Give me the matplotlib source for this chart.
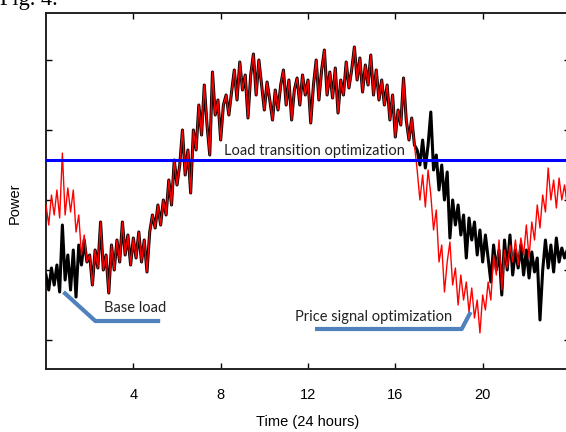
#!/usr/bin/env python3
"""Power over 24 hours: base load vs. price-signal and load-transition optimization."""

import numpy as np
import matplotlib
matplotlib.use("Agg")
import matplotlib.pyplot as plt

# time grid, one sample every 7.5 minutes
hours = np.arange(0, 24.001, 0.125)

# 0:00 - 1:52, where the two curves differ
base_morning = [9.5, 8.0, 10.2, 8.5, 10.5, 7.8, 14.5, 9.0,
                11.5, 8.0, 12.0, 7.3, 12.5, 10.5, 13.0, 10.8]
price_morning = [16.5, 14.5, 17.5, 15.5, 18.0, 15.2, 21.7, 15.5,
                 18.2, 15.8, 18.0, 13.8, 15.5, 11.5, 13.5, 10.8]

# 2:00 - 16:52, both curves identical
daytime = [11.5, 8.5, 12.0, 10.2, 14.8, 10.0, 11.5, 7.7,
           12.5, 10.0, 13.0, 10.8, 14.8, 11.5, 13.5, 10.5,
           13.2, 11.2, 13.8, 10.8, 13.0, 9.8, 13.8, 15.5,
           14.2, 16.5, 14.5, 17.0, 15.5, 19.0, 16.5, 21.0,
           18.5, 20.5, 24.0, 19.5, 22.0, 17.7, 24.0, 22.0,
           26.5, 23.5, 28.5, 24.5, 21.5, 29.8, 25.5, 27.0,
           23.0, 26.5, 27.5, 25.5, 27.8, 30.0, 27.0, 30.8,
           28.0, 29.5, 25.2, 29.5, 31.6, 27.5, 31.0, 28.5,
           26.0, 28.8, 27.0, 25.0, 28.0, 26.0, 28.5, 30.0,
           26.5, 29.0, 25.0, 28.0, 29.2, 26.5, 29.5, 27.5,
           29.0, 24.7, 28.5, 31.0, 27.0, 30.0, 32.0, 27.5,
           29.8, 27.2, 30.2, 25.7, 29.0, 27.5, 30.8, 28.2,
           30.0, 32.3, 29.0, 31.2, 27.8, 30.5, 28.5, 31.5,
           27.5, 30.0, 27.0, 29.0, 26.5, 28.5, 25.0, 27.5,
           23.3, 26.0, 24.5, 29.2, 25.0, 23.0, 25.2, 22.5]

# 17:00 - 24:00
base_evening = [22.0, 20.5, 23.0, 20.2, 22.5, 25.8, 20.0, 21.5,
                18.0, 20.5, 17.0, 19.8, 13.2, 17.0, 14.5, 16.5,
                13.5, 15.5, 11.2, 15.2, 13.0, 14.8, 11.5, 14.0,
                10.8, 13.5, 11.2, 8.8, 12.5, 10.0, 12.0, 7.5,
                13.0, 10.0, 13.5, 9.5, 12.0, 10.2, 12.5, 9.5,
                12.0, 9.2, 11.8, 9.8, 11.2, 5.0, 10.0, 13.0,
                10.2, 12.5, 9.8, 13.2, 10.8, 12.2, 11.2, 12.0,
                11.5]
price_evening = [20.0, 17.0, 19.5, 16.3, 20.0, 17.5, 14.0, 16.0,
                 10.8, 12.5, 7.8, 10.8, 12.8, 8.5, 10.2, 6.5,
                 9.5, 7.0, 8.8, 5.8, 8.2, 5.2, 7.0, 3.7,
                 7.5, 6.0, 8.8, 7.0, 11.5, 9.5, 13.0, 8.0,
                 12.0, 10.2, 12.5, 10.8, 13.0, 10.5, 13.2, 11.5,
                 14.5, 11.2, 14.8, 13.0, 16.5, 14.2, 17.5, 15.8,
                 20.2, 17.0, 19.0, 16.2, 19.2, 17.0, 18.5, 16.5,
                 18.0]

transition_level = 21.0

x_ticks = [4, 8, 12, 16, 20]
y_ticks = [3, 10, 17, 24, 31]

# annotation leader lines (hour, power)
base_note_x = [0.8, 2.26, 5.23]
base_note_y = [7.8, 4.9, 4.9]
price_note_x = [12.32, 19.04, 19.45]
price_note_y = [4.1, 4.1, 5.8]

base_load = np.array(base_morning + daytime + base_evening)
price_opt = np.array(price_morning + daytime + price_evening)

fig = plt.figure(figsize=(5.66, 4.32), dpi=100)
ax = fig.add_axes([46 / 566, 1 - 369 / 432, 524 / 566, 356 / 432])

ax.plot(hours, base_load, color="black", linewidth=2.2, zorder=3)
ax.plot(hours, price_opt, color="red", linewidth=1.0, zorder=4)
ax.axhline(transition_level, color="#0000ff", linewidth=2.2, zorder=5)

ax.plot(base_note_x, base_note_y, color="#4f81bd", linewidth=3, zorder=6,
        solid_capstyle="butt")
ax.plot(price_note_x, price_note_y, color="#4f81bd", linewidth=3, zorder=6,
        solid_capstyle="butt")

note_font = dict(family=["Lato", "DejaVu Sans"], fontsize=10.5, color="#222222")
ax.text(4.1, 6.2, "Base load", ha="center", va="center", **note_font)
ax.text(15.0, 5.3, "Price signal optimization", ha="center", va="center", **note_font)
ax.text(12.28, 21.9, "Load transition optimization", ha="center", va="center", **note_font)

ax.set_xlim(0, 24)
ax.set_ylim(0.1, 35.7)
ax.set_xticks(x_ticks)
ax.set_yticks(y_ticks)
ax.set_yticklabels([])
ax.tick_params(direction="in", top=True, right=True, length=4, width=1,
               labelsize=10.5, pad=14)
for lbl in ax.get_xticklabels():
    lbl.set_family(["Liberation Sans", "DejaVu Sans"])
for sp in ax.spines.values():
    sp.set_linewidth(1.4)
    sp.set_color("#222222")

ax.set_xlabel("Time (24 hours)", fontsize=10.5, family=["Liberation Sans", "DejaVu Sans"])
ax.xaxis.set_label_coords(0.5, -0.13)
ax.set_ylabel("Power", fontsize=10.5, family=["Liberation Sans", "DejaVu Sans"])
ax.yaxis.set_label_coords(-0.046, 0.466)

fig.text(0.0, 1 - 5 / 432, "Fig. 4.", family=["Liberation Serif", "DejaVu Serif"],
         fontsize=16, va="baseline", ha="left")

fig.savefig("out.png", dpi=100)
